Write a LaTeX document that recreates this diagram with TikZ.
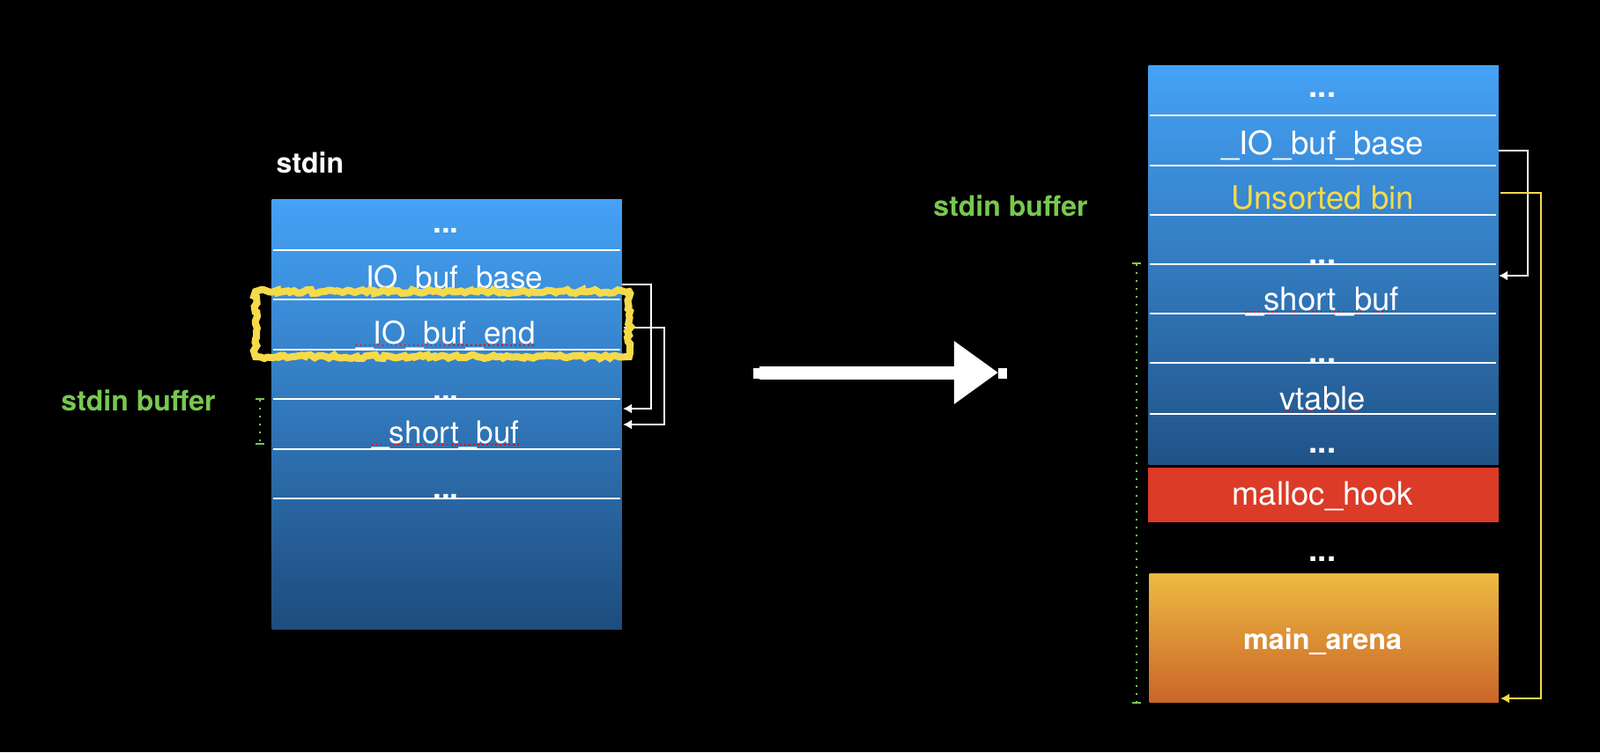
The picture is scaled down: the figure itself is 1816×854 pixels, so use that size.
\documentclass[tikz,border=0pt]{standalone}
\usepackage{fontspec}
\setmainfont{TeX Gyre Heros}
\usepackage{xcolor}
\usetikzlibrary{arrows.meta,decorations.pathmorphing}

\definecolor{cellTop}{HTML}{45A2F6}
\definecolor{cellBot}{HTML}{1D4C7D}
\definecolor{bufGreen}{HTML}{78C850}
\definecolor{binYellow}{HTML}{F5DA4A}
\definecolor{hookRed}{HTML}{DB3B27}
\definecolor{arenaTop}{HTML}{EEB941}
\definecolor{arenaBot}{HTML}{CA6529}

\newcommand{\gapdots}{\textbf{...}}

\begin{document}
\begin{tikzpicture}[x=0.01cm, y=-0.01cm,
	lbl/.style={text=white, anchor=base, inner sep=0pt, font=\fontsize{10}{12}\selectfont},
	rlbl/.style={lbl, font=\fontsize{10.4}{12}\selectfont},
	title/.style={anchor=base, inner sep=0pt, font=\bfseries\fontsize{9.1}{11}\selectfont},
	block/.style={anchor=north west, inner sep=0pt},
	sep/.style={white, line width=0.025cm},
	ptr/.style={white, line width=0.02cm, -{Latex[length=0.1cm,width=0.11cm]}},
	span/.style={bufGreen, dotted, line width=0.02cm, {Bar[width=0.1cm]}-{Bar[width=0.1cm]}},
	typo/.style={red, densely dotted, line width=0.015cm},
	hilite/.style={binYellow, line width=0.08cm, decorate, decoration={random steps, segment length=1.2pt, amplitude=0.6pt}},
	move/.style={white, line width=0.15cm, -{Triangle[length=0.5cm,width=0.68cm]}},
	handle/.style={fill=white, inner sep=0pt, minimum width=0.1cm, minimum height=0.12cm}]

	% background
	\fill[black] (0,0) rectangle (1816,854);

	% left: stdin
	\node[title, text=white, anchor=base west] (stdinT) at (313,196) {stdin};
	\node[block, top color=cellTop, bottom color=cellBot, minimum width=3.97cm, minimum height=4.87cm] (stdinL) at (308,226) {};
	\foreach \y in {284,340,397,453,510,566}
		\draw[sep] (310,\y) -- (704,\y);

	\node[lbl] (l1) at (506,264) {\gapdots};
	\node[lbl] (l2) at (506,327) {\_IO\_buf\_base};
	\node[lbl] (l3) at (506,390) {\_IO\_buf\_end};
	\node[lbl] (l4) at (506,454) {\gapdots};
	\node[lbl] (l5) at (506,503) {\_short\_buf};
	\node[lbl] (l6) at (506,566) {\gapdots};

	\draw[typo] ([yshift=-0.02cm]l3.base west) -- ([yshift=-0.02cm]l3.base east);
	\draw[typo] ([yshift=-0.02cm]l5.base west) -- ([yshift=-0.02cm]l5.base east);

	\node[title, text=bufGreen] (bufL) at (157,466) {stdin buffer};
	\coordinate (spanLt) at (295,452);
	\coordinate (spanLb) at (295,505);
	\draw[span] (spanLt) -- (spanLb);

	\coordinate (baseL) at (706,323);
	\coordinate (endL) at (708,372);
	\coordinate (shortL1) at (707,464);
	\coordinate (shortL2) at (707,482);
	\draw[ptr] (baseL) -- ++(33,0) |- (shortL1);
	\draw[ptr] (endL) -- ++(46,0) |- (shortL2);

	\draw[hilite] (290,331) rectangle (714,405);

	% arrow in the middle
	\coordinate (mvS) at (862,423);
	\coordinate (mvE) at (1133,423);
	\draw[move] (mvS) -- (mvE);
	\node[handle] (hS) at (860,424) {};
	\node[handle] (hE) at (1138,424) {};

	% right: stdin after the attack
	\node[title, text=bufGreen] (bufR) at (1147,245) {stdin buffer};
	\node[block, top color=cellTop, bottom color=cellBot!92!cellTop, minimum width=3.97cm, minimum height=4.53cm] (stdinR) at (1303,74) {};
	\foreach \y in {131,188,244,300,356,412,470}
		\draw[sep] (1305,\y) -- (1698,\y);

	\node[rlbl] (r1) at (1501,110) {\gapdots};
	\node[rlbl] (r2) at (1501,175) {\_IO\_buf\_base};
	\node[rlbl, text=binYellow] (r3) at (1501,237) {Unsorted bin};
	\node[rlbl] (r4) at (1501,300) {\gapdots};
	\node[rlbl] (r5) at (1501,352) {\_short\_buf};
	\node[rlbl] (r6) at (1501,412) {\gapdots};
	\node[rlbl] (r7) at (1501,465) {vtable};
	\node[rlbl] (r8) at (1501,514) {\gapdots};

	\draw[typo] ([yshift=-0.02cm]r5.base west) -- ([yshift=-0.02cm]r5.base east);
	\draw[typo] ([yshift=-0.02cm]r7.base west) -- ([yshift=-0.02cm]r7.base east);

	\node[block, fill=hookRed, minimum width=3.98cm, minimum height=0.62cm] (hook) at (1302,530) {};
	\node[rlbl] (hookT) at (1501,573) {malloc\_hook};
	\node[rlbl] (gap) at (1501,637) {\gapdots};
	\node[block, top color=arenaTop, bottom color=arenaBot, minimum width=3.96cm, minimum height=1.46cm] (arena) at (1304,651) {};
	\node[lbl, font=\bfseries\fontsize{9.2}{11}\selectfont] (arenaT) at (1501,737) {main\_arena};

	\coordinate (spanRt) at (1290,298);
	\coordinate (spanRb) at (1290,799);
	\draw[span] (spanRt) -- (spanRb);

	\coordinate (baseR) at (1701,171);
	\coordinate (shortR) at (1701,313);
	\coordinate (binR) at (1703,219);
	\coordinate (arenaR) at (1703,793);
	\draw[ptr] (baseR) -- ++(33,0) |- (shortR);
	\draw[ptr, binYellow] (binR) -- ++(46,0) |- (arenaR);
\end{tikzpicture}
\end{document}
